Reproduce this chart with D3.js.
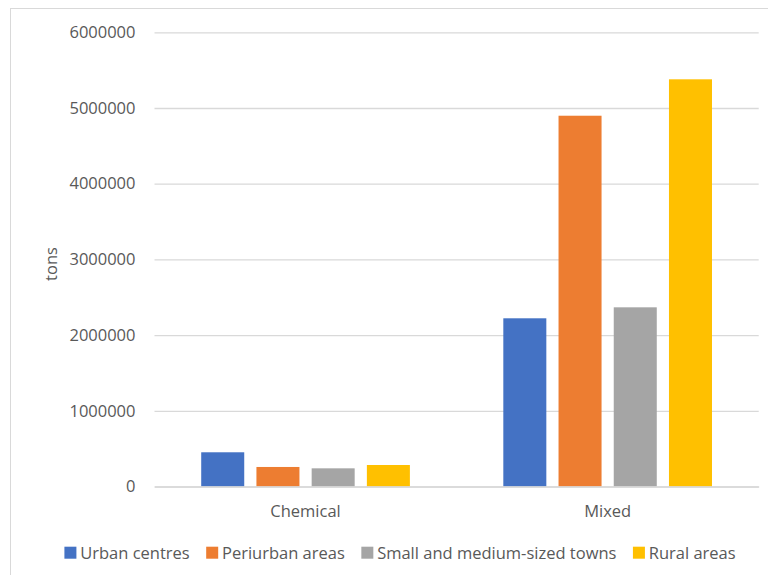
<!DOCTYPE html>
<html>
<head>
<meta charset="utf-8">
<script src="https://cdn.jsdelivr.net/npm/d3@7"></script>
<style>
  html, body { margin: 0; padding: 0; background: #fff; }
  svg { display: block; }
  text { font-family: "Open Sans", sans-serif; fill: #595959; }
</style>
</head>
<body>
<svg id="chart" width="768" height="575"></svg>
<script>
// Waste quantities by type and area
const categories = ["Chemical", "Mixed"];
const seriesNames = ["Urban centres", "Periurban areas", "Small and medium-sized towns", "Rural areas"];
const seriesColors = ["#4472C4", "#ED7D31", "#A5A5A5", "#FFC000"];
const chemicalValues = [452000, 258000, 240000, 284000];
const mixedValues = [2222000, 4898000, 2367000, 5379000];
const yTicks = [0, 1000000, 2000000, 3000000, 4000000, 5000000, 6000000];
const yTitle = "tons";

const valuesByCategory = [chemicalValues, mixedValues];
const FS = 16.5;

const svg = d3.select("#chart");
const plot = { left: 154.5, right: 758.7, top: 32.3, bottom: 486.5 };

// Outer frame (left and top edges visible in the window)
svg.append("rect")
  .attr("x", 10.5).attr("y", 8.5)
  .attr("width", 800).attr("height", 600)
  .attr("fill", "none").attr("stroke", "#d9d9d9").attr("stroke-width", 1);

const y = d3.scaleLinear().domain([0, 6000000]).range([plot.bottom, plot.top]);
const x0 = d3.scaleBand().domain(categories).range([plot.left, plot.right]).padding(0);
const x1 = d3.scaleBand().domain(seriesNames).range([0, x0.bandwidth()])
  .paddingInner(0.221).paddingOuter(0.846);

// Gridlines and tick labels
const yAxis = d3.axisLeft(y).tickValues(yTicks).tickSize(-(plot.right - plot.left)).tickPadding(19)
  .tickFormat(d => String(d));
const gy = svg.append("g").attr("transform", `translate(${plot.left},0)`).call(yAxis);
gy.select(".domain").remove();
gy.selectAll(".tick line").attr("stroke", "#d9d9d9").attr("stroke-width", 1.3);
gy.selectAll(".tick text").attr("font-size", FS).attr("fill", "#595959")
  .attr("font-family", "'Open Sans', sans-serif");

// Bars
const groups = svg.append("g").selectAll("g").data(categories).join("g")
  .attr("transform", d => `translate(${x0(d)},0)`);
groups.selectAll("rect")
  .data((c, i) => seriesNames.map((s, j) => ({ s, v: valuesByCategory[i][j], color: seriesColors[j] })))
  .join("rect")
  .attr("x", d => x1(d.s))
  .attr("y", d => y(d.v))
  .attr("width", x1.bandwidth())
  .attr("height", d => y(0) - y(d.v))
  .attr("fill", d => d.color);

// Category axis
const xAxis = d3.axisBottom(x0).tickSize(0).tickPadding(19);
const gx = svg.append("g").attr("transform", `translate(0,${plot.bottom})`).call(xAxis);
gx.select(".domain").attr("stroke", "#d9d9d9").attr("stroke-width", 1.3);
gx.selectAll(".tick text").attr("font-size", FS).attr("fill", "#595959")
  .attr("font-family", "'Open Sans', sans-serif");

// Axis title
svg.append("text")
  .attr("transform", `translate(57,264) rotate(-90)`)
  .attr("text-anchor", "middle")
  .attr("font-size", FS)
  .text(yTitle);

// Legend
const legend = svg.append("g");
const items = legend.selectAll("g").data(seriesNames).join("g");
items.append("rect").attr("width", 12).attr("height", 12).attr("y", -12.3)
  .attr("fill", (d, i) => seriesColors[i]);
items.append("text").attr("x", 15.8).attr("font-size", FS).text(d => d);
let cursor = 0;
const gap = 16.5;
items.each(function () {
  const w = 15.8 + d3.select(this).select("text").node().getComputedTextLength();
  d3.select(this).attr("data-x", cursor);
  cursor += w + gap;
});
const totalW = cursor - gap;
const startX = 400 - totalW / 2;
items.attr("transform", function () {
  return `translate(${startX + (+this.getAttribute("data-x"))},559)`;
});
</script>
</body>
</html>
